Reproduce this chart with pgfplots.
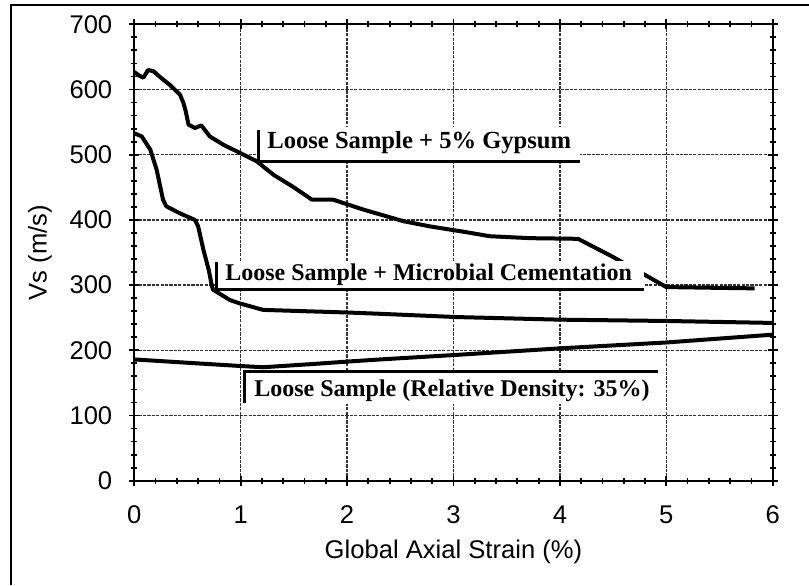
\documentclass[border=0pt]{standalone}
\usepackage{fontspec}
\setmainfont{Liberation Sans}
\newfontfamily\lblfont{Liberation Serif}
\usepackage{pgfplots}
\pgfplotsset{compat=1.18}

% Shear-wave velocity against axial strain
\pgfplotstableread{
x y
0.00 627
0.04 622
0.085 618
0.13 630
0.18 628
0.25 618
0.335 607
0.43 592
0.46 580
0.48 569
0.51 546
0.57 541
0.63 545
0.71 528
0.84 515
0.99 503
1.15 490
1.31 469
1.49 451
1.67 431
1.87 431
2.15 416
2.53 398
2.78 390
3.09 382
3.34 375
3.72 372
4.17 371
4.49 344
4.85 311
5.00 297
5.40 296
5.83 295
}\gypsum

\pgfplotstableread{
x y
0.00 533
0.07 528
0.15 508
0.21 477
0.27 431
0.30 421
0.43 410
0.57 400
0.60 390
0.65 354
0.70 323
0.73 298
0.74 293
0.90 277
0.99 272
1.21 262
1.60 260
2.00 258
2.31 256
3.03 251
4.00 247
5.00 245
6.00 242
}\microbial

\pgfplotstableread{
x y
0.00 186
0.59 180
0.99 176
1.21 174
1.68 179
2.03 183
2.31 186
3.03 193
4.00 203
5.00 212
6.00 224
}\loose

\begin{document}
\begin{tikzpicture}
\useasboundingbox (-67.15pt,-52.15pt) rectangle (337.35pt,240.35pt);
% cropped frame (left and top edges only)
\draw[line width=1.2pt] (-61.65pt,-52.15pt) -- (-61.65pt,237.85pt) -- (337.35pt,237.85pt);
\begin{axis}[
  at={(0pt,0pt)}, anchor=south west,
  scale only axis,
  width=319.2pt, height=228.2pt,
  xmin=0, xmax=6, ymin=0, ymax=700,
  xtick={0,1,...,6}, ytick={0,100,...,700},
  minor x tick num=4, minor y tick num=4,
  tick align=center,
  major tick length=5pt, minor tick length=3pt,
  every tick/.style={black, line width=0.9pt},
  axis line style={line width=1.1pt},
  grid=major,
  major grid style={black!80, line width=0.7pt, dash pattern=on 1.6pt off 0.6pt},
  /pgf/number format/assume math mode=true,
  tick label style={font=\fontsize{12.8}{15}\selectfont},
  xticklabel style={yshift=-6.5pt},
  yticklabel style={xshift=-5pt},
  xlabel={Global Axial Strain (\%)},
  ylabel={Vs (m/s)},
  label style={font=\fontsize{12.8}{15}\selectfont},
  x label style={at={(axis description cs:0.5,-0.1556)}, anchor=center},
  y label style={at={(axis description cs:-0.1477,0.5)}, anchor=center},
]
\addplot[black, line width=2pt, line join=round] table[x=x,y=y] {\gypsum};
\addplot[black, line width=2pt, line join=round] table[x=x,y=y] {\microbial};
\addplot[black, line width=2pt, line join=round] table[x=x,y=y] {\loose};

% label: gypsum
\fill[white] (axis cs:1.163,489) rectangle (axis cs:4.19,542);
\draw[line width=1.5pt] (axis cs:1.163,538) -- (axis cs:1.163,489) -- (axis cs:4.19,489);
\node[anchor=base west, inner sep=0pt, font=\lblfont\bfseries\fontsize{12.3}{14}\selectfont]
  at (axis cs:1.247,510) {Loose Sample + 5\% Gypsum};

% label: microbial cementation
\fill[white] (axis cs:0.773,294) rectangle (axis cs:4.79,337);
\draw[line width=1.5pt] (axis cs:0.773,335) -- (axis cs:0.773,294) -- (axis cs:4.79,294);
\node[anchor=base west, inner sep=0pt, font=\lblfont\bfseries\fontsize{12}{14}\selectfont]
  at (axis cs:0.852,307) {Loose Sample + Microbial Cementation};

% label: loose sample
\fill[white] (axis cs:1.04,117) rectangle (axis cs:4.92,167);
\draw[line width=1.5pt] (axis cs:1.04,119) -- (axis cs:1.04,167) -- (axis cs:4.92,167);
\node[anchor=base west, inner sep=0pt, font=\lblfont\bfseries\fontsize{12}{14}\selectfont]
  at (axis cs:1.125,129) {Loose Sample (Relative Density: 35\%)};
\end{axis}
\end{tikzpicture}
\end{document}
